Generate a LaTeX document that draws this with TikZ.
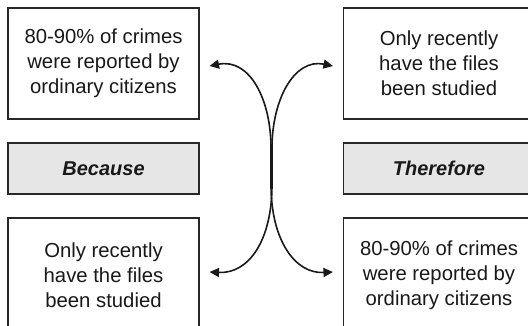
\documentclass[tikz,border=0pt]{standalone}
\usepackage{fontspec}
\setmainfont{Liberation Sans}
\usetikzlibrary{arrows.meta}
\definecolor{boxgray}{RGB}{230,230,231}
\definecolor{edge}{RGB}{40,40,40}
\definecolor{ink}{RGB}{25,25,25}
\tikzset{
  textbox/.style={draw=edge, line width=1.1pt, fill=white, minimum width=191pt, minimum height=111pt,
    align=center, text=ink, font=\fontsize{20.3}{25}\selectfont, inner sep=0pt},
  labelbox/.style={draw=edge, line width=1.1pt, fill=boxgray, minimum width=191pt, minimum height=51pt,
    text=ink, font=\fontsize{20}{25}\selectfont\bfseries\itshape, inner sep=0pt},
  link/.style={draw=ink, line width=1.6pt, {Triangle[length=9.5pt,width=9pt]}-{Triangle[length=9.5pt,width=9pt]}}
}
\begin{document}
\begin{tikzpicture}[x=1pt,y=-1pt]
\clip (0,0) rectangle (528,326);
\fill[white] (0,0) rectangle (528,326);
\node[textbox] (tl) at (103.5,63.5) {80-90\% of crimes\\were reported by\\ordinary citizens};
\node[labelbox] (because) at (103.5,168.5) {Because};
\node[textbox, minimum height=114pt] (bl) at (103.5,275) {Only recently\\have the files\\been studied};
\node[textbox] (tr) at (439,63.5) {Only recently\\have the files\\been studied};
\node[labelbox] (therefore) at (439,168.5) {Therefore};
\node[textbox, minimum height=114pt] (br) at (439,275) {80-90\% of crimes\\were reported by\\ordinary citizens};
\coordinate (a1) at ([xshift=10pt]tl.east |- 0,66);
\coordinate (a2) at ([xshift=-10pt]br.west |- 0,272);
\coordinate (b1) at ([xshift=-10pt]tr.west |- 0,66);
\coordinate (b2) at ([xshift=10pt]bl.east |- 0,272);
\draw[link] (a1) .. controls (250,58) and (271,100) .. (271,148) -- (271,185) .. controls (271,240) and (295,274) .. (a2);
\draw[link] (b1) .. controls (294,58) and (272,100) .. (272,148) -- (272,185) .. controls (272,240) and (249,274) .. (b2);
\end{tikzpicture}
\end{document}
